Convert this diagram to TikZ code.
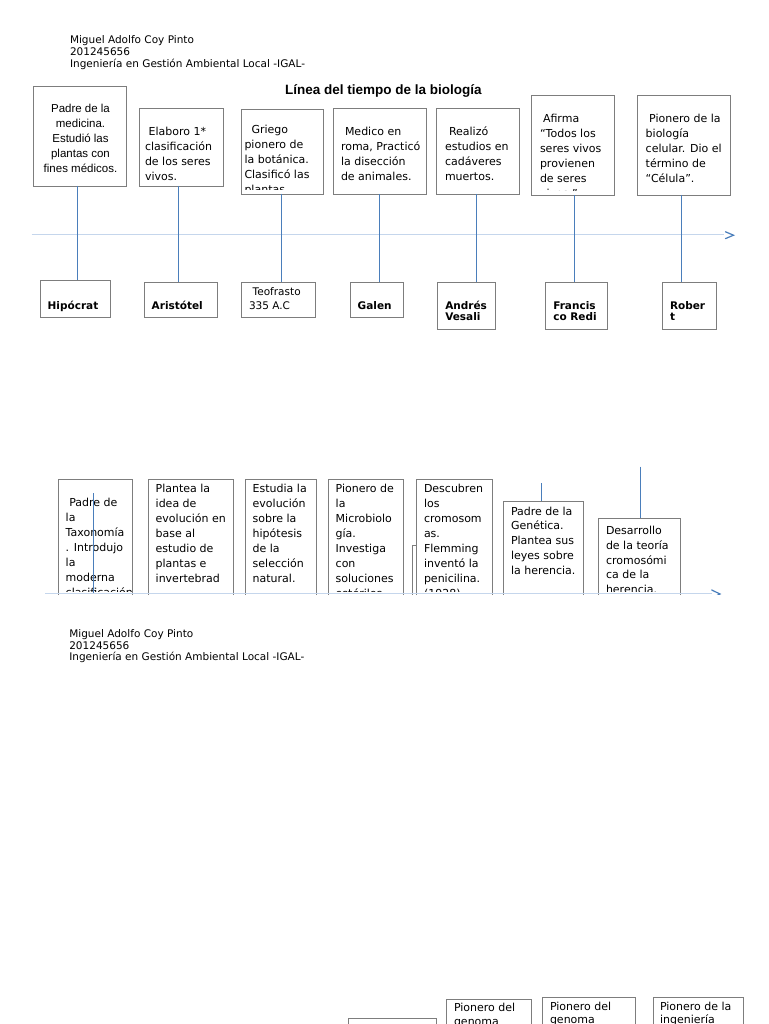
\documentclass[tikz,border=0pt]{standalone}
\usepackage{fontspec}
\setmainfont{DejaVu Sans}
\newfontfamily\arialf{Liberation Sans}
\usetikzlibrary{calc}
\definecolor{boxgray}{RGB}{125,125,125}
\definecolor{connblue}{RGB}{74,126,187}
\definecolor{tlblue}{RGB}{197,214,236}
\tikzset{
  box/.style={draw=boxgray, line width=0.8pt, fill=white, inner sep=0pt, outer sep=0pt, anchor=north west},
  conn/.style={draw=connblue, line width=1.2pt},
  tline/.style={draw=tlblue, line width=1.3pt},
  chev/.style={draw=connblue, line width=1.2pt, line cap=round},
  txt/.style={inner sep=0pt, outer sep=0pt, anchor=base west},
}
% clipped box text: #1 box, #2 name, #3 x, #4 y, #5 baselineskip, #6 text
\newcommand\boxtext[6]{%
  \begin{scope}
    \clip (#1.north west) rectangle ([yshift=4pt]#1.south east);
    \node[txt] (#2) at (#3,#4) {\parbox[t]{160pt}{\fontsize{11}{#5}\selectfont\lineskiplimit=-100pt\raggedright #6}};
  \end{scope}}
\newcommand\nametext[6]{%
  \begin{scope}
    \clip (#1.north west) rectangle ([yshift=4pt]#1.south east);
    \node[txt] (#2) at (#3,#4) {\parbox[t]{160pt}{\fontsize{10.5}{#5}\selectfont\lineskiplimit=-100pt\raggedright #6}};
  \end{scope}}
\begin{document}
\begin{tikzpicture}[x=1pt,y=-1pt]
\useasboundingbox (0,0) rectangle (768,1024);
\fill[white] (0,0) rectangle (768,1024);

% ---------- header 1 ----------
\node[txt] (head1) at (70,43.8) {\parbox[t]{300pt}{\fontsize{10.5}{12.1}\selectfont Miguel Adolfo Coy Pinto\\201245656\\Ingeniería en Gestión Ambiental Local -IGAL-}};
\node[anchor=base, inner sep=0pt] (title) at (383.3,95) {\arialf\bfseries\fontsize{13.5}{15}\selectfont Línea del tiempo de la biología};

% ---------- row 1 description boxes ----------
\node[box, minimum width=93.4pt, minimum height=99.3pt] (dA) at (33.3,86.7) {};
\node[box, minimum width=84pt, minimum height=77.7pt] (dB) at (139.3,108.3) {};
\node[box, minimum width=81.6pt, minimum height=84.7pt] (dC) at (241.7,109.3) {};
\node[box, minimum width=93.4pt, minimum height=85.7pt] (dD) at (333.3,108.3) {};
\node[box, minimum width=82.6pt, minimum height=85.7pt] (dE) at (436.7,108.3) {};
\node[box, minimum width=82.6pt, minimum height=100pt] (dF) at (531.7,95) {};
\node[box, minimum width=92.3pt, minimum height=100pt] (dG) at (637.7,95) {};

\node[inner sep=0pt, anchor=base] (tA) at (80.5,112.8) {\parbox[t]{95pt}{\centering\arialf\fontsize{11.5}{15}\selectfont Padre de la\\medicina.\\Estudió las\\plantas con\\fines médicos.}};
\boxtext{dB}{tB}{145}{135.5}{15}{\hspace*{3.6pt}Elaboro 1*\\clasificación\\de los seres\\vivos.}
\boxtext{dC}{tC}{244.5}{133.5}{15}{\hspace*{7pt}Griego\\pionero de\\la botánica.\\Clasificó las\\plantas}
\boxtext{dD}{tD}{341}{135.5}{15}{\hspace*{4pt}Medico en\\roma, Practicó\\la disección\\de animales.}
\boxtext{dE}{tE}{445}{135.5}{15}{\hspace*{4pt}Realizó\\estudios en\\cadáveres\\muertos.}
\boxtext{dF}{tF}{540}{122.5}{15}{\hspace*{3pt}Afirma\\“Todos los\\seres vivos\\provienen\\de seres\\vivos.”}
\boxtext{dG}{tG}{645.7}{122.5}{15}{\hspace*{3.5pt}Pionero de la\\biología\\celular. Dio el\\término de\\“Célula”.}

% ---------- row 1 name boxes ----------
\node[box, minimum width=70.7pt, minimum height=37.3pt] (nA) at (40,280) {};
\node[box, minimum width=73pt, minimum height=35pt] (nB) at (144.3,282.3) {};
\node[box, minimum width=74pt, minimum height=35pt] (nC) at (241.3,282.3) {};
\node[box, minimum width=53.3pt, minimum height=35pt] (nD) at (350,282.3) {};
\node[box, minimum width=58pt, minimum height=47pt] (nE) at (437.3,282.3) {};
\node[box, minimum width=62pt, minimum height=47pt] (nF) at (545.7,282.3) {};
\node[box, minimum width=54pt, minimum height=47pt] (nG) at (662.7,282.3) {};

\nametext{nA}{lA}{47.7}{309}{11.3}{\bfseries Hipócrat}
\nametext{nB}{lB}{151.7}{309.5}{11.3}{\bfseries Aristótel}
\nametext{nC}{lC}{249}{295.2}{14.3}{\hspace*{3.7pt}Teofrasto\\335 A.C}
\nametext{nD}{lD}{357.7}{309.5}{11.3}{\bfseries Galen}
\nametext{nE}{lE}{445.3}{309.5}{11.3}{\bfseries Andrés\\Vesali}
\nametext{nF}{lF}{553.3}{309.5}{11.3}{\bfseries Francis\\co Redi}
\nametext{nG}{lG}{670}{309.5}{11.3}{\bfseries Rober\\t}

% ---------- timeline 1 ----------
\coordinate (t1s) at (31.7,234.7);
\coordinate (t1e) at (724,234.7);
\draw[tline] (t1s) -- (t1e);
\draw[chev] (725.5,231.8) -- (733.5,235.2) -- (725.5,238.6);

% ---------- row 1 connectors ----------
\coordinate (x1) at (77.5,0);
\coordinate (x2) at (178.5,0);
\coordinate (x3) at (281.5,0);
\coordinate (x4) at (379.5,0);
\coordinate (x5) at (476.5,0);
\coordinate (x6) at (574.5,0);
\coordinate (x7) at (681.5,0);
\draw[conn] (dA.south -| x1) -- (nA.north -| x1);
\draw[conn] (dB.south -| x2) -- (nB.north -| x2);
\draw[conn] (dC.south -| x3) -- (nC.north -| x3);
\draw[conn] (dD.south -| x4) -- (nD.north -| x4);
\draw[conn] (dE.south -| x5) -- (nE.north -| x5);
\draw[conn] (dF.south -| x6) -- (nF.north -| x6);
\draw[conn] (dG.south -| x7) -- (nG.north -| x7);

% ---------- row 2 ----------
\begin{scope}
\clip (0,440) rectangle (768,594.2);
\node[box, minimum width=74pt, minimum height=116pt] (bH) at (58.3,479) {};
\node[box, minimum width=85pt, minimum height=116pt] (bI) at (148.3,479) {};
\node[box, minimum width=70.3pt, minimum height=116pt] (bJ) at (245.7,479) {};
\node[box, minimum width=75pt, minimum height=116pt] (bK) at (328.3,479) {};
\node[box, minimum width=60pt, minimum height=50pt] (bX) at (412.3,545) {};
\node[box, minimum width=76pt, minimum height=116pt] (bL) at (416.7,479) {};
\node[box, minimum width=80pt, minimum height=94pt] (bM) at (503.3,501) {};
\node[box, minimum width=81.7pt, minimum height=76.7pt] (bN) at (598.3,518.3) {};

\boxtext{bH}{tH}{65.7}{506.8}{15}{\hspace*{3.6pt}Padre de\\la\\Taxonomía\\. Introdujo\\la\\moderna\\clasificación}
\boxtext{bI}{tI}{155.7}{492.5}{15}{Plantea la\\idea de\\evolución en\\base al\\estudio de\\plantas e\\invertebrad}
\boxtext{bJ}{tJ}{252.7}{492.5}{15}{Estudia la\\evolución\\sobre la\\hipótesis\\de la\\selección\\natural.}
\boxtext{bK}{tK}{335.7}{492.5}{15}{Pionero de\\la\\Microbiolo\\gía.\\Investiga\\con\\soluciones\\estériles.}
\boxtext{bL}{tL}{424}{492.5}{15}{Descubren\\los\\cromosom\\as.\\Flemming\\inventó la\\penicilina.\\(1928)}
\boxtext{bM}{tM}{511}{515.2}{14.75}{Padre de la\\Genética.\\Plantea sus\\leyes sobre\\la herencia.}
\boxtext{bN}{tN}{606}{534.5}{14.8}{Desarrollo\\de la teoría\\cromosómi\\ca de la\\herencia.}

\coordinate (t2s) at (45,593.3);
\coordinate (t2e) at (711.7,593.3);
\draw[tline] (t2s) -- (t2e);
\draw[chev] (711.7,590) -- (720,594) -- (711.7,598);

\coordinate (cH) at (93.5,493.3);
\coordinate (cM) at (541.5,483.3);
\coordinate (cN) at (640.5,466.7);
\draw[conn] (cH) -- (cH |- t2s);
\draw[conn] (cM) -- (cM |- bM.north);
\draw[conn] (cN) -- (cN |- bN.north);
\end{scope}

% ---------- header 2 ----------
\node[txt] (head2) at (69.3,637.8) {\parbox[t]{300pt}{\fontsize{10.5}{11.4}\selectfont Miguel Adolfo Coy Pinto\\201245656\\Ingeniería en Gestión Ambiental Local -IGAL-}};

% ---------- bottom row ----------
\begin{scope}
\clip (0,900) rectangle (768,1024);
\node[box, minimum width=87.7pt, minimum height=30pt] (bP) at (348.3,1018.3) {};
\node[box, minimum width=85.7pt, minimum height=40pt] (bQ) at (446,999) {};
\node[box, minimum width=92.3pt, minimum height=40pt] (bR) at (542.7,997.7) {};
\node[box, minimum width=90pt, minimum height=40pt] (bS) at (653.3,997.7) {};
\boxtext{bQ}{tQ}{454}{1011.8}{13.6}{Pionero del\\genoma}
\boxtext{bR}{tR}{550}{1010.2}{13.6}{Pionero del\\genoma}
\boxtext{bS}{tS}{660}{1010.2}{13.6}{Pionero de la\\ingeniería}
\end{scope}
\end{tikzpicture}
\end{document}
